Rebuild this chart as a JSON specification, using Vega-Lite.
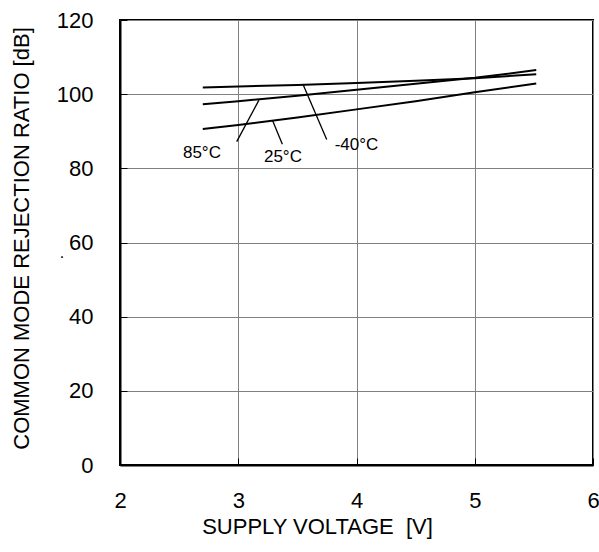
{
  "$schema": "https://vega.github.io/schema/vega-lite/v6.json",
  "width": 473,
  "height": 445,
  "autosize": {"type": "none"},
  "padding": {"left": 120, "top": 20, "right": 6, "bottom": 87},
  "background": "white",
  "config": {
    "view": {"stroke": "black", "strokeWidth": 2},
    "font": "Arial",
    "axis": {
      "grid": true,
      "gridColor": "#808080",
      "gridWidth": 1,
      "domainColor": "black",
      "domainWidth": 2,
      "tickColor": "black",
      "tickWidth": 1,
      "tickSize": -7,
      "labelFont": "Arial",
      "labelFontSize": 22,
      "labelFontWeight": "normal",
      "labelColor": "black",
      "labelPadding": 34,
      "labelFlush": false,
      "format": "d",
      "titleFont": "Arial",
      "titleFontSize": 22,
      "titleFontWeight": "normal",
      "titleColor": "black"
    },
    "text": {"font": "Arial"}
  },
  "datasets": {
    "curves": [
      {"V": 2.7, "CMRR": 101.8, "T": "-40"},
      {"V": 3.0, "CMRR": 102.1, "T": "-40"},
      {"V": 3.5, "CMRR": 102.5, "T": "-40"},
      {"V": 4.0, "CMRR": 103.0, "T": "-40"},
      {"V": 4.5, "CMRR": 103.6, "T": "-40"},
      {"V": 5.0, "CMRR": 104.3, "T": "-40"},
      {"V": 5.52, "CMRR": 105.4, "T": "-40"},
      {"V": 2.7, "CMRR": 97.3, "T": "85"},
      {"V": 3.0, "CMRR": 98.1, "T": "85"},
      {"V": 3.5, "CMRR": 99.6, "T": "85"},
      {"V": 4.0, "CMRR": 101.2, "T": "85"},
      {"V": 4.5, "CMRR": 102.8, "T": "85"},
      {"V": 5.0, "CMRR": 104.4, "T": "85"},
      {"V": 5.52, "CMRR": 106.5, "T": "85"},
      {"V": 2.7, "CMRR": 90.6, "T": "25"},
      {"V": 3.0, "CMRR": 91.7, "T": "25"},
      {"V": 3.5, "CMRR": 93.7, "T": "25"},
      {"V": 4.0, "CMRR": 95.9, "T": "25"},
      {"V": 4.5, "CMRR": 98.1, "T": "25"},
      {"V": 5.0, "CMRR": 100.5, "T": "25"},
      {"V": 5.52, "CMRR": 102.9, "T": "25"}
    ],
    "leaders": [
      {"x1": 2.987, "y1": 87.2, "x2": 3.175, "y2": 98.4},
      {"x1": 3.373, "y1": 86.5, "x2": 3.291, "y2": 92.8},
      {"x1": 3.748, "y1": 87.8, "x2": 3.550, "y2": 102.5}
    ],
    "labels": [
      {"V": 2.693, "CMRR": 84.1, "text": "85°C"},
      {"V": 3.378, "CMRR": 83.1, "text": "25°C"},
      {"V": 4.0, "CMRR": 86.4, "text": "-40°C"}
    ],
    "dot": [
      {"V": 1.51, "CMRR": 55.8, "text": "."}
    ]
  },
  "layer": [
    {
      "data": {"name": "curves"},
      "mark": {"type": "line", "color": "black", "strokeWidth": 2},
      "encoding": {
        "x": {
          "field": "V", "type": "quantitative",
          "scale": {"domain": [2, 6], "nice": false, "zero": false},
          "axis": {"values": [2, 3, 4, 5, 6], "title": "SUPPLY VOLTAGE \u00a0[V]", "labelPadding": 32, "titleBaseline": "alphabetic", "titleY": 68, "titleX": 197, "titleAlign": "center"}
        },
        "y": {
          "field": "CMRR", "type": "quantitative",
          "scale": {"domain": [0, 120], "nice": false},
          "axis": {"values": [0, 20, 40, 60, 80, 100, 120], "title": "COMMON MODE REJECTION RATIO [dB]", "titleX": -99, "titleY": 218, "titleBaseline": "middle", "titleAngle": -90}
        },
        "detail": {"field": "T"}
      }
    },
    {
      "data": {"name": "leaders"},
      "mark": {"type": "rule", "color": "black", "strokeWidth": 1.3},
      "encoding": {
        "x": {"field": "x1", "type": "quantitative"},
        "y": {"field": "y1", "type": "quantitative"},
        "x2": {"field": "x2"},
        "y2": {"field": "y2"}
      }
    },
    {
      "data": {"name": "labels"},
      "mark": {"type": "text", "fontSize": 17, "font": "Arial", "color": "black", "baseline": "middle", "align": "center"},
      "encoding": {
        "x": {"field": "V", "type": "quantitative"},
        "y": {"field": "CMRR", "type": "quantitative"},
        "text": {"field": "text"}
      }
    },
    {
      "data": {"name": "dot"},
      "mark": {"type": "text", "fontSize": 16, "font": "Arial", "color": "black", "baseline": "alphabetic", "align": "center"},
      "encoding": {
        "x": {"field": "V", "type": "quantitative"},
        "y": {"field": "CMRR", "type": "quantitative"},
        "text": {"field": "text"}
      }
    }
  ]
}
